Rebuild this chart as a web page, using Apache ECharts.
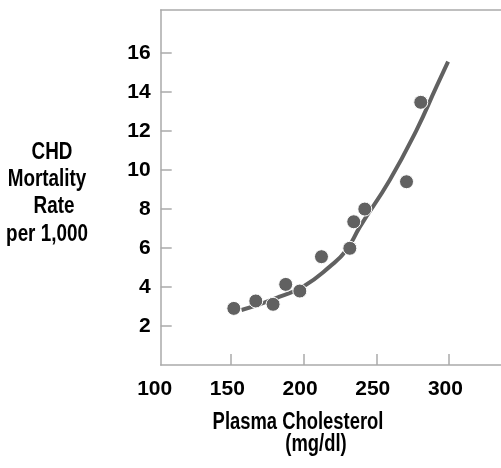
<!DOCTYPE html>
<html><head><meta charset="utf-8">
<script src="https://cdn.jsdelivr.net/npm/echarts@6/dist/echarts.min.js"></script>
<style>html,body{margin:0;padding:0;background:#fff;overflow:hidden}#c{width:501px;height:468px}</style>
</head><body><div id="c"></div>
<script>
// Observed data points: plasma cholesterol (mg/dl) vs CHD mortality rate per 1,000
const cholesterol = [151.9, 167.0, 178.9, 187.6, 197.3, 212.2, 231.7, 234.4, 242.0, 270.7, 280.5];
const mortality   = [2.90, 3.28, 3.11, 4.13, 3.79, 5.55, 5.98, 7.34, 7.99, 9.39, 13.46];
// Fitted curve
const curveX = [157.2, 170.0, 183.5, 199.5, 217.9, 229.4, 238.6, 259.2, 277.6, 291.3, 299.3];
const curveY = [2.82, 3.12, 3.50, 4.01, 5.04, 5.89, 7.08, 9.48, 12.04, 14.26, 15.54];
const xTickValues = [150, 200, 250, 300];
const xLabelValues = [100, 150, 200, 250, 300];
const yTickValues = [2, 4, 6, 8, 10, 12, 14, 16];
const yTitleLines = ['CHD', 'Mortality', 'Rate', 'per 1,000'];
const xTitleLines = ['Plasma Cholesterol', '(mg/dl)'];

const chart = echarts.init(document.getElementById('c'), null, {renderer: 'canvas'});
const tickFont = {fontFamily: 'Liberation Sans, Arial, sans-serif', fontWeight: 'bold', fontSize: 21, color: '#000'};
const titleFont = 'bold 23px "Liberation Sans", Arial, sans-serif';
const frame = {color: '#aaa', width: 1.5};

const graphics = [];
const yTitleX = [52, 47, 54, 47];
const yTitleY = [153, 180, 207, 235];
yTitleLines.forEach((t, i) => graphics.push({
  type: 'text', x: yTitleX[i], y: yTitleY[i], scaleX: 0.82,
  style: {text: t, font: titleFont, fill: '#000', textAlign: 'center', textVerticalAlign: 'middle'}
}));
const xTitleX = [298, 316];
const xTitleY = [423, 445];
xTitleLines.forEach((t, i) => graphics.push({
  type: 'text', x: xTitleX[i], y: xTitleY[i], scaleX: 0.8,
  style: {text: t, font: titleFont, fill: '#000', textAlign: 'center', textVerticalAlign: 'middle'}
}));

const X_MIN = 101.6, X_MAX = 335.7;
chart.setOption({
  animation: false,
  grid: {left: 160.7, top: 10, right: 0, bottom: 103},
  xAxis: [
    {
      type: 'value', min: X_MIN, max: X_MAX, position: 'bottom',
      axisLine: {show: true, onZero: false, lineStyle: frame},
      splitLine: {show: false},
      axisTick: {show: true, inside: true, length: 11, customValues: xTickValues, lineStyle: frame},
      axisLabel: {show: false}
    },
    {
      type: 'value', min: 100, max: 100 + (X_MAX - X_MIN), position: 'bottom',
      axisLine: {show: false}, splitLine: {show: false}, axisTick: {show: false},
      axisLabel: {show: true, customValues: xLabelValues, margin: 14, padding: [0, 12, 0, 0], ...tickFont}
    },
    {
      type: 'value', min: X_MIN, max: X_MAX, position: 'top',
      axisLine: {show: true, onZero: false, lineStyle: frame},
      splitLine: {show: false}, axisTick: {show: false}, axisLabel: {show: false}
    }
  ],
  yAxis: {
    type: 'value', min: 0, max: 18.19,
    axisLine: {show: true, onZero: false, lineStyle: frame},
    splitLine: {show: false},
    axisTick: {show: true, inside: true, length: 11, customValues: yTickValues, lineStyle: frame},
    axisLabel: {show: true, customValues: yTickValues, margin: 10, ...tickFont}
  },
  series: [
    {
      type: 'line', smooth: true, symbol: 'none', z: 2, xAxisIndex: 0, clip: false,
      data: curveX.map((x, i) => [x, curveY[i]]),
      lineStyle: {color: '#616161', width: 4}
    },
    {
      type: 'scatter', z: 3, symbolSize: 14, xAxisIndex: 0,
      data: cholesterol.map((x, i) => [x, mortality[i]]),
      itemStyle: {color: '#616161', borderColor: '#fff', borderWidth: 1, opacity: 1}
    }
  ],
  graphic: graphics
});
</script></body></html>
